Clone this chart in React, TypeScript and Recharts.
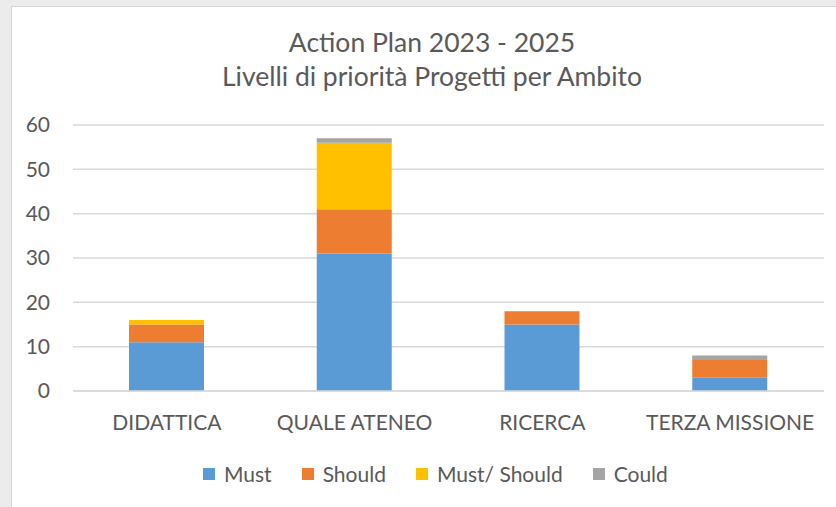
import { BarChart, Bar, XAxis, YAxis, CartesianGrid } from 'recharts';

const categories = ['DIDATTICA', 'QUALE ATENEO', 'RICERCA', 'TERZA MISSIONE'];
const must = [11, 31, 15, 3];
const should = [4, 10, 3, 4];
const mustShould = [1, 15, 0, 0];
const could = [0, 1, 0, 1];
const yTicks = [0, 10, 20, 30, 40, 50, 60];

const series = [
  { key: 'must', name: 'Must', color: '#5B9BD5' },
  { key: 'should', name: 'Should', color: '#ED7D31' },
  { key: 'mustShould', name: 'Must/ Should', color: '#FFC000' },
  { key: 'could', name: 'Could', color: '#A5A5A5' },
];

const data = categories.map((name, i) => ({
  name,
  must: must[i],
  should: should[i],
  mustShould: mustShould[i],
  could: could[i],
}));

const font = 'Lato, "Open Sans", sans-serif';
const textColor = '#595959';

export default function App() {
  return (
    <div style={{ position: 'fixed', left: 0, top: 0, width: 836, height: 507, background: '#ececec', overflow: 'hidden' }}>
      <div
        style={{
          position: 'absolute',
          left: 11,
          top: 6,
          width: 840,
          height: 510,
          background: '#fff',
          borderLeft: '1px solid #d4d4d4',
          borderTop: '1px solid #d4d4d4',
        }}
      />
      <div style={{ position: 'absolute', left: 0, top: 25, width: 864, textAlign: 'center', fontFamily: font, fontSize: 26.5, color: textColor, lineHeight: '34px' }}>
        <div>Action Plan 2023 - 2025</div>
        <div>Livelli di priorità Progetti per Ambito</div>
      </div>
      <div style={{ position: 'absolute', left: 0, top: 0 }}>
        <BarChart width={836} height={507} data={data} margin={{ top: 125, right: 12, bottom: 86, left: 13 }}>
          <CartesianGrid vertical={false} stroke="#d9d9d9" strokeWidth={1.5} />
          <XAxis
            dataKey="name"
            height={30}
            axisLine={{ stroke: '#d9d9d9', strokeWidth: 1.5 }}
            tickLine={false}
            tickSize={0}
            tickMargin={24}
            tick={{ fill: textColor, fontSize: 21, fontFamily: font }}
            interval={0}
          />
          <YAxis
            width={60}
            domain={[0, 60]}
            ticks={yTicks}
            axisLine={false}
            tickLine={false}
            tickSize={0}
            tickMargin={23}
            tick={{ fill: textColor, fontSize: 21, fontFamily: font }}
          />
          {series.map((s) => (
            <Bar key={s.key} dataKey={s.key} name={s.name} stackId="a" fill={s.color} barSize={75} isAnimationActive={false} />
          ))}
        </BarChart>
      </div>
      <div
        style={{
          position: 'absolute',
          left: 203,
          top: 461,
          display: 'flex',
          gap: 30,
          fontFamily: font,
          fontSize: 21,
          color: textColor,
          lineHeight: '26px',
        }}
      >
        {series.map((s) => (
          <div key={s.key} style={{ display: 'flex', alignItems: 'center' }}>
            <span style={{ width: 12, height: 12, background: s.color, marginRight: 9, display: 'inline-block' }} />
            {s.name}
          </div>
        ))}
      </div>
    </div>
  );
}
